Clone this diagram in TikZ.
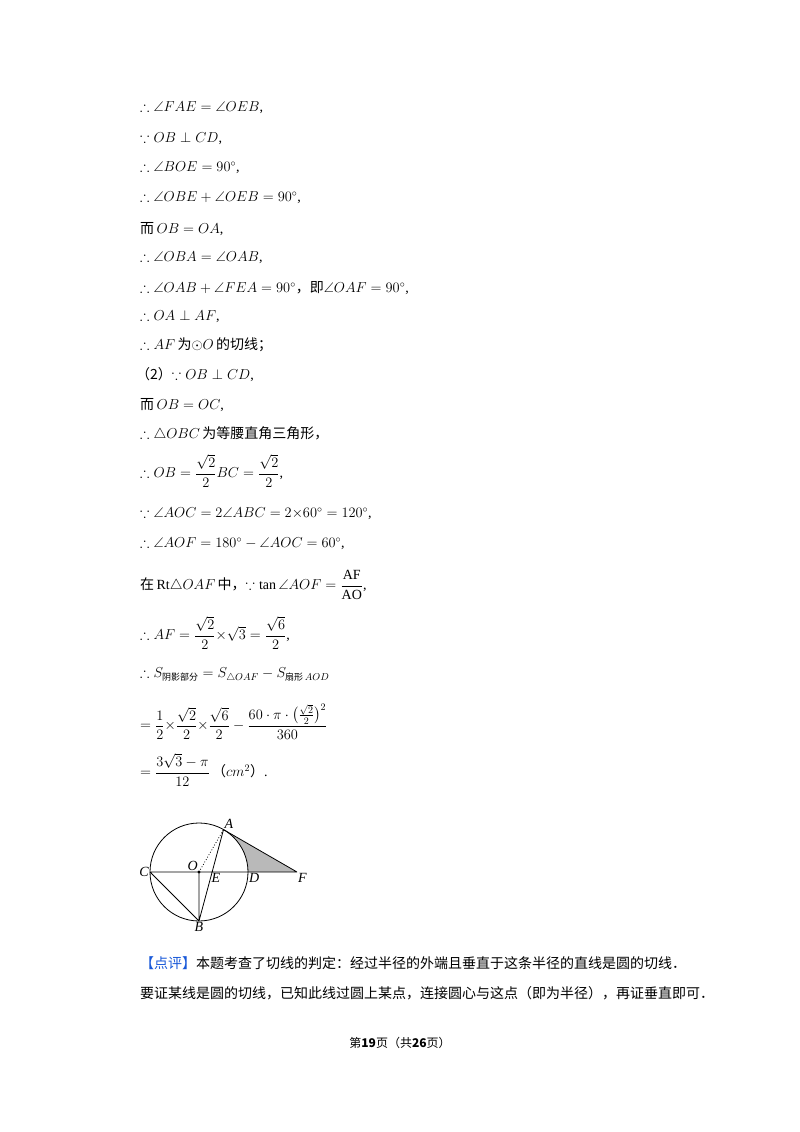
\documentclass[tikz,border=0pt]{standalone}
\usepackage{amsmath,amssymb}
\usepackage{fontspec}
\setmainfont{Liberation Serif}
\newfontfamily\cjk{Noto Sans CJK SC}
\newcommand{\zh}[1]{{\cjk #1}}
\begin{document}
\begin{tikzpicture}[x=1pt,y=-1pt,line/.style={anchor=west,inner sep=0pt,font=\fontsize{14}{16}\selectfont}]
\useasboundingbox (0,0) rectangle (800,1132);
\fill[white] (0,0) rectangle (800,1132);
\node[line] (l1) at (140,108) {$\therefore\angle FAE=\angle OEB$,};
\node[line] (l2) at (140,139) {$\because OB\perp CD$,};
\node[line] (l3) at (140,168) {$\therefore\angle BOE=90^\circ$,};
\node[line] (l4) at (140,198) {$\therefore\angle OBE+\angle OEB=90^\circ$,};
\node[line] (l5) at (140,229) {\zh{而}$\,OB=OA$,};
\node[line] (l6) at (140,258) {$\therefore\angle OBA=\angle OAB$,};
\node[line] (l7) at (140,288) {$\therefore\angle OAB+\angle FEA=90^\circ$\zh{，即}$\angle OAF=90^\circ$,};
\node[line] (l8) at (140,317) {$\therefore OA\perp AF$,};
\node[line] (l9) at (140,345) {$\therefore AF$\,\zh{为}$\odot O$\,\zh{的切线；}};
\node[line] (l10) at (136,375) {\zh{（2）}$\because OB\perp CD$,};
\node[line] (l11) at (140,405) {\zh{而}$\,OB=OC$,};
\node[line] (l12) at (140,434) {$\therefore\triangle OBC$\,\zh{为等腰直角三角形，}};
\node[line] (l13) at (140,471) {$\therefore OB=\dfrac{\sqrt2}{2}BC=\dfrac{\sqrt2}{2}$,};
\node[line] (l14) at (140,514) {$\because\angle AOC=2\angle ABC=2{\times}60^\circ=120^\circ$,};
\node[line] (l15) at (140,544) {$\therefore\angle AOF=180^\circ-\angle AOC=60^\circ$,};
\node[line] (l16) at (140,585) {\zh{在}\,Rt$\triangle OAF$\,\zh{中，}$\because\tan\angle AOF=\dfrac{\mathrm{AF}}{\mathrm{AO}}$,};
\node[line] (l17) at (140,633) {$\therefore AF=\dfrac{\sqrt2}{2}{\times}\sqrt3=\dfrac{\sqrt6}{2}$,};
\node[line] (l18) at (140,675) {$\therefore S_{\text{\fontsize{9}{9}\cjk 阴影部分}}=S_{\triangle OAF}-S_{\text{\fontsize{9}{9}\cjk 扇形}\,AOD}$};
\node[line] (l19) at (140,722) {$=\dfrac12{\times}\dfrac{\sqrt2}{2}{\times}\dfrac{\sqrt6}{2}-\dfrac{60\cdot\pi\cdot\bigl(\frac{\sqrt2}{2}\bigr)^2}{\quad\;360\quad\;}$};
\node[line] (l20) at (140,770) {$=\dfrac{3\sqrt3-\pi}{12}$\,\zh{（}$cm^2$\zh{）}.};
% figure
\coordinate (O) at (199,872);
\def\r{49}
\coordinate (C) at (150,872);
\coordinate (D) at (248,872);
\coordinate (A) at (223.5,829.6);
\coordinate (B) at (199,921);
\coordinate (F) at (297,872);
\coordinate (E) at (214.9,872);
\fill[gray!55] (D) -- (F) -- (A) arc[start angle=-60,end angle=0,radius=\r] -- cycle;
\draw[line width=0.8pt] (O) circle[radius=\r];
\draw[line width=0.8pt] (C) -- (F) (A) -- (F) (A) -- (B) (C) -- (B) (O) -- (B);
\draw[dotted,line width=0.8pt] (O) -- (A);
\fill (O) circle[radius=1.6];
\begin{scope}[font=\fontsize{14}{14}\selectfont\itshape,inner sep=1pt]
\node[above right] (lA) at (A) {A};
\node[left] (lC) at (C) {C};
\node[below right] (lD) at (D) {D};
\node[below right] (lF) at (F) {F};
\node[above left] (lO) at (O) {O};
\node[below,xshift=1pt] (lE) at (E) {E};
\node[below] (lB) at (B) {B};
\end{scope}
\node[line] (c1) at (140,963) {\zh{{\color[rgb]{0.1,0.35,0.85}【点评】}本题考查了切线的判定：经过半径的外端且垂直于这条半径的直线是圆的切线．}};
\node[line] (c2) at (140,993) {\zh{要证某线是圆的切线，已知此线过圆上某点，连接圆心与这点（即为半径），再证垂直即可．}};
\node[anchor=center,font=\fontsize{12}{14}\selectfont] (ft) at (400,1043) {\zh{第\textbf{19}页（共\textbf{26}页）}};
\end{tikzpicture}
\end{document}
